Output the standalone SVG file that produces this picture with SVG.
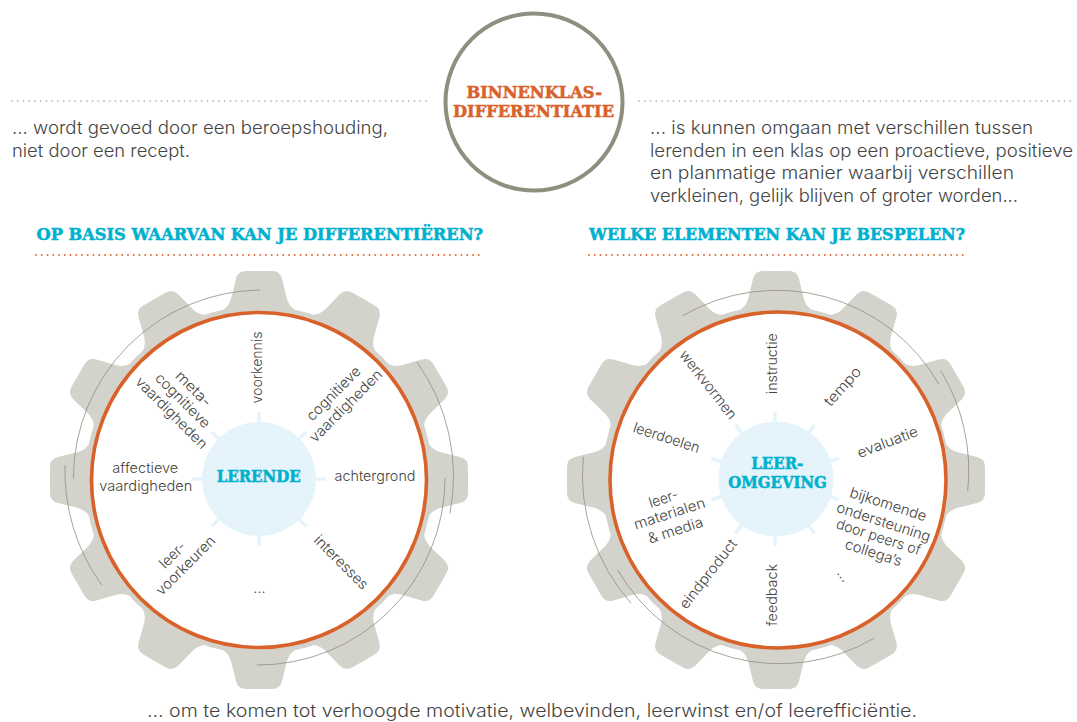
<svg xmlns="http://www.w3.org/2000/svg" width="1077" height="722" viewBox="0 0 1077 722">
<style>
.b{font-family:"Inter","Liberation Sans",sans-serif;font-weight:300;font-size:18px;fill:#444442}
.l{font-family:"Inter","Liberation Sans",sans-serif;font-weight:300;font-size:14.5px;fill:#444442;text-anchor:middle}
.h{font-family:"DejaVu Serif","Liberation Serif",serif;font-stretch:condensed;font-weight:700;font-size:17px;stroke-width:.5}
.c{fill:#00b0cf;stroke:#00b0cf}.o{fill:#d9622b;stroke:#d9622b}
.dg{stroke:#a8a898;stroke-width:1.7;stroke-linecap:round;stroke-dasharray:0 5.75;fill:none}
.do{stroke:#e2692e;stroke-width:1.9;stroke-linecap:round;stroke-dasharray:0 5.75;fill:none}
.arc{fill:none;stroke:#8f8e7f;stroke-width:.8}
.ring{fill:#fff;stroke:#d9622b;stroke-width:3.6}
.hub{fill:#e5f4fa}
.tick{stroke:#e5f4fa;stroke-width:3.5}
.gear{fill:#d3d3cc}
</style>
<defs>
<path id="tooth" d="M-40,-168 Q-31,-171 -28,-181 L-23,-201 Q-21,-209 -13,-209 L13,-209 Q21,-209 23,-201 L28,-181 Q31,-171 40,-168 Z"/>
<g id="gearShape" class="gear">
<circle r="174"/>
<use href="#tooth"/><use href="#tooth" transform="rotate(30)"/><use href="#tooth" transform="rotate(60)"/><use href="#tooth" transform="rotate(90)"/><use href="#tooth" transform="rotate(120)"/><use href="#tooth" transform="rotate(150)"/><use href="#tooth" transform="rotate(180)"/><use href="#tooth" transform="rotate(210)"/><use href="#tooth" transform="rotate(240)"/><use href="#tooth" transform="rotate(270)"/><use href="#tooth" transform="rotate(300)"/><use href="#tooth" transform="rotate(330)"/>
</g>
<line id="t" x1="0" y1="-55" x2="0" y2="-67" class="tick"/>
</defs>

<g id="connectors">
<line class="dg" x1="12" y1="101" x2="427" y2="101"/>
<line class="dg" x1="639" y1="101" x2="1074" y2="101"/>
<line class="do" x1="36" y1="255" x2="480" y2="255"/>
<line class="do" x1="589" y1="255" x2="965" y2="255"/>
</g>

<g id="node-title">
<circle cx="534" cy="102" r="88.5" fill="#fff" stroke="#8f8e7f" stroke-width="4"/>
<text class="h o" x="466.5" y="97.7" textLength="135.5" lengthAdjust="spacingAndGlyphs">BINNENKLAS-</text>
<text class="h o" x="453" y="117.3" textLength="161" lengthAdjust="spacingAndGlyphs">DIFFERENTIATIE</text>
</g>

<g id="node-left-text">
<text class="b" x="12" y="134" textLength="376" lengthAdjust="spacingAndGlyphs">... wordt gevoed door een beroepshouding,</text>
<text class="b" x="12" y="157" textLength="178" lengthAdjust="spacingAndGlyphs">niet door een recept.</text>
</g>
<g id="node-right-text">
<text class="b" x="650" y="134" textLength="383" lengthAdjust="spacingAndGlyphs">... is kunnen omgaan met verschillen tussen</text>
<text class="b" x="650" y="156.5" textLength="423" lengthAdjust="spacingAndGlyphs">lerenden in een klas op een proactieve, positieve</text>
<text class="b" x="650" y="179" textLength="364" lengthAdjust="spacingAndGlyphs">en planmatige manier waarbij verschillen</text>
<text class="b" x="650" y="201.7" textLength="368" lengthAdjust="spacingAndGlyphs">verkleinen, gelijk blijven of groter worden...</text>
</g>
<g id="node-heading-left"><text class="h c" x="36.5" y="240" textLength="446.5" lengthAdjust="spacingAndGlyphs">OP BASIS WAARVAN KAN JE DIFFERENTIËREN?</text></g>
<g id="node-heading-right"><text class="h c" x="589" y="240" textLength="376" lengthAdjust="spacingAndGlyphs">WELKE ELEMENTEN KAN JE BESPELEN?</text></g>

<g id="node-gear-left">
<use href="#gearShape" transform="translate(259,480)"/>
<circle class="ring" cx="259" cy="480" r="167.5"/>
<path class="arc" d="M260,290 A189,189 0 0 0 73.3,478.3"/>
<path class="arc" d="M65,465 A195,195 0 0 0 101.7,585"/>
<path class="arc" d="M416.7,361.7 A197,197 0 0 1 450,513.3"/>
<path class="arc" d="M445,478.3 A187,187 0 0 1 256.7,665"/>
<g transform="translate(259,479)">
<use href="#t"/><use href="#t" transform="rotate(45)"/><use href="#t" transform="rotate(90)"/><use href="#t" transform="rotate(135)"/><use href="#t" transform="rotate(180)"/><use href="#t" transform="rotate(225)"/><use href="#t" transform="rotate(270)"/><use href="#t" transform="rotate(315)"/>
<circle class="hub" r="57"/>
</g>
<text class="h c" x="216.7" y="481.7" textLength="84" lengthAdjust="spacingAndGlyphs">LERENDE</text>
<text class="l" transform="translate(261.7,367.5) rotate(-90)" textLength="72" lengthAdjust="spacingAndGlyphs">voorkennis</text>
<text class="l" transform="translate(337,397) rotate(-45)" textLength="70" lengthAdjust="spacingAndGlyphs">cognitieve</text>
<text class="l" transform="translate(349.3,409.3) rotate(-45)" textLength="96" lengthAdjust="spacingAndGlyphs">vaardigheden</text>
<text class="l" transform="translate(190,392.3) rotate(45)" textLength="44" lengthAdjust="spacingAndGlyphs">meta-</text>
<text class="l" transform="translate(179.3,404) rotate(45)" textLength="71" lengthAdjust="spacingAndGlyphs">cognitieve</text>
<text class="l" transform="translate(168,416.3) rotate(45)" textLength="95" lengthAdjust="spacingAndGlyphs">vaardigheden</text>
<text class="l" x="145.3" y="473.3" textLength="66" lengthAdjust="spacingAndGlyphs">affectieve</text>
<text class="l" x="145.8" y="490.7" textLength="93" lengthAdjust="spacingAndGlyphs">vaardigheden</text>
<text class="l" x="375" y="481" textLength="81" lengthAdjust="spacingAndGlyphs">achtergrond</text>
<text class="l" transform="translate(176,558.3) rotate(-45)" textLength="31" lengthAdjust="spacingAndGlyphs">leer-</text>
<text class="l" transform="translate(189,569) rotate(-45)" textLength="77" lengthAdjust="spacingAndGlyphs">voorkeuren</text>
<text class="l" transform="translate(337.7,565.7) rotate(45)" textLength="70" lengthAdjust="spacingAndGlyphs">interesses</text>
<text class="l" x="259.5" y="593.3">...</text>
</g>

<g id="node-gear-right">
<use href="#gearShape" transform="translate(776,480)"/>
<circle class="ring" cx="778" cy="480" r="168"/>
<path class="arc" d="M682.7,315.7 A187,187 0 0 1 939,384.3"/>
<path class="arc" d="M940.7,370.7 A192,192 0 0 1 967.7,491"/>
<path class="arc" d="M583.3,456.7 A194,194 0 0 0 631,603.3"/>
<path class="arc" d="M617.7,570 A187,187 0 0 0 874,638.3"/>
<g transform="translate(776,479)">
<g transform="translate(-1,0)"><use href="#t"/><use href="#t" transform="rotate(36)"/><use href="#t" transform="rotate(72)"/><use href="#t" transform="rotate(108)"/><use href="#t" transform="rotate(144)"/><use href="#t" transform="rotate(180)"/><use href="#t" transform="rotate(216)"/><use href="#t" transform="rotate(252)"/><use href="#t" transform="rotate(288)"/><use href="#t" transform="rotate(324)"/></g>
<circle class="hub" r="57.5"/>
</g>
<text class="h c" x="751.3" y="469.3" textLength="52" lengthAdjust="spacingAndGlyphs">LEER-</text>
<text class="h c" x="728.3" y="488.3" textLength="98.5" lengthAdjust="spacingAndGlyphs">OMGEVING</text>
<text class="l" transform="translate(776.7,363.7) rotate(-90)" textLength="61" lengthAdjust="spacingAndGlyphs">instructie</text>
<text class="l" transform="translate(846.3,389.7) rotate(-48)" textLength="47" lengthAdjust="spacingAndGlyphs">tempo</text>
<text class="l" transform="translate(889.3,446.7) rotate(-21)" textLength="64" lengthAdjust="spacingAndGlyphs">evaluatie</text>
<text class="l" transform="translate(886.7,509) rotate(18)" textLength="80" lengthAdjust="spacingAndGlyphs">bijkomende</text>
<text class="l" transform="translate(882,526.7) rotate(18)" textLength="98" lengthAdjust="spacingAndGlyphs">ondersteuning</text>
<text class="l" transform="translate(877,541.7) rotate(18)" textLength="88" lengthAdjust="spacingAndGlyphs">door peers of</text>
<text class="l" transform="translate(872,557.3) rotate(18)" textLength="59" lengthAdjust="spacingAndGlyphs">collega’s</text>
<text class="l" transform="translate(840,578) rotate(54)">...</text>
<text class="l" transform="translate(776.7,595) rotate(-90)" textLength="62" lengthAdjust="spacingAndGlyphs">feedback</text>
<text class="l" transform="translate(712,577) rotate(-52)" textLength="84" lengthAdjust="spacingAndGlyphs">eindproduct</text>
<text class="l" transform="translate(665,503.3) rotate(-18)" textLength="30" lengthAdjust="spacingAndGlyphs">leer-</text>
<text class="l" transform="translate(671,518.3) rotate(-18)" textLength="74" lengthAdjust="spacingAndGlyphs">materialen</text>
<text class="l" transform="translate(677,535) rotate(-18)" textLength="57" lengthAdjust="spacingAndGlyphs">&amp; media</text>
<text class="l" transform="translate(665,442.3) rotate(18)" textLength="69" lengthAdjust="spacingAndGlyphs">leerdoelen</text>
<text class="l" transform="translate(704.3,387.7) rotate(52)" textLength="83" lengthAdjust="spacingAndGlyphs">werkvormen</text>
</g>

<g id="node-bottom"><text class="b" x="147" y="717" textLength="770" lengthAdjust="spacingAndGlyphs">... om te komen tot verhoogde motivatie, welbevinden, leerwinst en/of leerefficiëntie.</text></g>
</svg>
